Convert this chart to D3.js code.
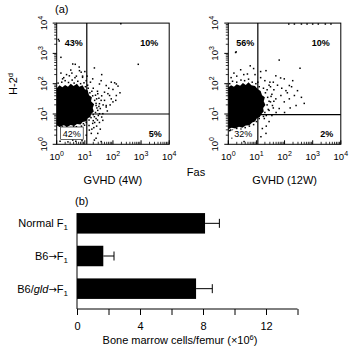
<!DOCTYPE html>
<html>
<head>
<meta charset="utf-8">
<script src="https://d3js.org/d3.v7.min.js"></script>
<style>
  body { margin: 0; background: #fff; }
  svg { display: block; font-family: "Liberation Sans", Arial, sans-serif; }
</style>
</head>
<body>
<div id="chart"></div>
<script>
// ---- data (log10 fluorescence, decades) ----
const decades = [0, 1, 2, 3, 4];
const panelTitles = ["GVHD (4W)", "GVHD (12W)"];
const quadrantPct4W = ["43%", "10%", "42%", "5%"];   // UL, UR, LL, LR
const quadrantPct12W = ["56%", "10%", "32%", "2%"];
const gate4W = [1.07, 1.0];   // Fas gate, H-2d gate
const gate12W = [1.05, 0.98];

// dense core of the cloud (outline)
const core4W = [[0,1.85],[0.1,1.95],[0.2,1.88],[0.3,1.96],[0.4,1.9],[0.5,2.0],[0.6,1.92],[0.72,2.0],[0.8,1.9],[0.92,1.95],[1.0,1.82],[1.1,1.78],[1.15,1.62],[1.25,1.55],[1.22,1.42],[1.33,1.32],[1.28,1.2],[1.32,1.08],[1.22,1.0],[1.2,0.9],[1.1,0.86],[1.05,0.76],[0.92,0.74],[0.85,0.65],[0.72,0.67],[0.62,0.6],[0.5,0.64],[0.38,0.58],[0.25,0.63],[0.12,0.58],[0,0.62]];
const core12W = [[0,1.88],[0.1,1.95],[0.2,1.9],[0.3,1.98],[0.42,1.93],[0.52,2.02],[0.62,1.96],[0.72,2.05],[0.82,1.95],[0.95,1.92],[1.05,1.82],[1.15,1.76],[1.2,1.62],[1.3,1.55],[1.26,1.42],[1.32,1.3],[1.24,1.2],[1.26,1.08],[1.18,1.0],[1.12,0.9],[1.02,0.86],[0.95,0.75],[0.85,0.72],[0.75,0.63],[0.62,0.62],[0.5,0.55],[0.38,0.58],[0.25,0.52],[0.12,0.55],[0,0.5]];

// single events
const dots4W = [
  [0.15,2.87],[0.09,3.41],[0.06,3.46],[2.28,3.98],[2.9,2.64],[0.66,2.64],[1.34,2.52],[0.81,2.43],[0.54,2.35],[0.92,2.25],
  [1.58,2.1],[2.06,2.03],[2.18,1.92],[2.0,1.81],[1.82,1.67],[2.12,1.61],[1.94,1.5],[1.7,1.45],[1.52,1.34],[1.76,1.28],
  [1.46,1.12],[1.64,1.01],[1.4,0.85],[1.52,0.72],[1.32,0.55],[1.23,0.36],[1.4,0.2],
  [0.57,2.65],[0.87,2.38],[0.45,2.26],[0.21,2.16],[0.92,2.21],[1.28,2.16],[1.52,1.99],[1.76,1.94],[1.94,2.05],[2.12,1.99],
  [1.7,1.72],[1.46,1.67],[1.88,1.61],[1.58,1.45],[2.0,1.4],[1.4,1.28],[1.76,1.23],[1.52,1.01],[1.34,0.91],[1.64,0.79],
  [1.28,0.69],[1.16,0.47],[1.46,0.36],[1.34,0.14],[1.58,0.09],[0.27,0.2],[0.57,0.14],[0.81,0.22],[1.05,0.3],[0.99,0.63],
  [0.05,2.02],[0.18,2.05],[0.3,2.1],[0.42,2.04],[0.55,2.12],[0.62,2.02],[0.75,2.08],[0.85,2.0],[0.97,2.03],[1.02,1.9],
  [1.12,1.85],[1.18,1.7],[1.28,1.6],[1.35,1.45],[1.4,1.35],[1.43,1.2],[1.38,1.05],[1.3,0.98],[1.22,0.88],[1.15,0.8],
  [1.05,0.72],[0.95,0.68],[0.88,0.6],[0.7,0.58],[0.6,0.6],[0.5,0.55],[0.35,0.6],[0.2,0.57],[0.1,0.6],
  [0.12,0.1],[0.4,0.08],[0.68,0.1],[0.9,0.12],[0.33,0.25],[0.75,0.3],
  [1.1,1.95],[1.2,2.05],[1.05,2.1],[1.3,1.85],[1.45,1.75],[1.6,1.6],[1.5,1.52],[1.65,1.3],[1.55,1.18],[1.48,0.95],
  [1.6,0.9],[1.45,0.8],[1.35,0.72],[1.42,0.6],[1.25,0.5],[1.15,0.62],[1.55,0.5],[1.8,1.1],[1.9,1.3],[2.1,1.45],
  [2.25,1.7],[1.85,1.85],[0.35,2.3],[0.7,2.25],[0.15,2.35],[0.5,2.45],[1.0,2.4],[0.8,2.55],[1.6,2.3],[0.25,2.2],
  [1.38,1.62],[1.5,1.25],[1.42,1.5],[1.25,1.75],[1.3,0.78],[1.18,1.02],[0.65,2.2],[1.08,2.25]
];
const dots12W = [
  [0.26,3.03],[0.28,3.05],[1.86,2.19],[1.81,2.78],[2.55,2.51],[0.44,2.46],[0.78,2.59],[0.68,2.32],[1.34,2.43],[1.69,2.26],
  [1.99,2.16],[2.29,2.1],[2.17,1.94],[2.46,1.77],[2.05,1.77],[2.35,1.61],[1.87,1.61],[2.17,1.5],[1.69,1.5],[1.99,1.4],
  [2.41,1.28],[1.57,1.28],[1.81,1.18],[1.45,1.12],[1.28,0.85],[1.21,0.52],[1.34,0.36],[1.16,0.25],
  [0.08,0.47],[0.14,0.2],[0.86,0.25],[0.74,0.41],[0.56,0.09],
  [2.15,3.97],[2.35,3.97],[2.6,3.97],[2.8,3.97],[3.0,3.97],[3.2,3.97],[3.45,3.97],[3.65,3.97],
  [0.05,2.0],[0.15,2.08],[0.3,2.05],[0.45,2.12],[0.58,2.1],[0.72,2.15],[0.85,2.05],[0.98,2.0],[1.1,1.9],[1.25,1.85],
  [1.32,1.7],[1.4,1.55],[1.45,1.42],[1.38,1.3],[1.42,1.15],[1.3,1.05],[1.25,0.92],[1.1,0.85],[1.0,0.75],[0.9,0.65],
  [0.75,0.6],[0.6,0.55],[0.45,0.5],[0.3,0.52],[0.15,0.47],[0.05,0.45],
  [1.5,1.9],[1.62,1.8],[1.55,1.65],[1.48,2.05],[1.15,2.2],[0.95,2.3],[0.3,2.25],[0.1,2.2],
  [1.45,1.95],[1.6,2.05],[1.75,1.95],[1.9,1.85],[2.1,1.7],[2.25,1.9],[2.6,1.55],[2.7,1.35],[2.2,1.2],[2.0,1.05],
  [1.7,1.05],[1.55,0.95],[1.45,0.75],[1.35,0.6],[1.5,1.4],[1.6,1.2],[1.15,2.4],[0.9,2.5],[0.55,2.3],[0.2,2.35],
  [1.3,2.1],[1.05,2.05],[1.38,1.8],[1.52,1.58],[1.62,1.42],[1.35,0.95],[0.35,0.35],[0.6,0.3]
];

// bone marrow cells/femur (x10^6)
const groups = ["Normal F1", "B6\u2192F1", "B6/gld\u2192F1"];
const cellMeans = [8.13, 1.67, 7.56];
const cellErrors = [0.91, 0.68, 1.03];
const cellTicks = [0, 2, 4, 6, 8, 10, 12, 14];
const cellTickLabels = [0, 4, 8, 12];

// ---- canvas ----
const svg = d3.select("#chart").append("svg")
  .attr("width", 350)
  .attr("height", 353);

// ---- (a) dot plots ----
const plotTop = 23.1, plotBottom = 144.3;
const panels = [
  { left: 56.7, title: panelTitles[0], pct: quadrantPct4W, gate: gate4W, core: core4W, dots: dots4W, llBox: true },
  { left: 228.3, title: panelTitles[1], pct: quadrantPct12W, gate: gate12W, core: core12W, dots: dots12W, llBox: false }
];
const plotWidth = 112.5;

panels.forEach(p => {
  const x = d3.scaleLinear().domain([0, 4]).range([p.left, p.left + plotWidth]);
  const y = d3.scaleLinear().domain([0, 4]).range([plotBottom, plotTop]);
  const g = svg.append("g");

  // cloud
  g.append("path")
    .datum(p.core)
    .attr("d", d3.line().x(d => x(d[0])).y(d => y(d[1])).curve(d3.curveLinearClosed))
    .attr("fill", "#000");

  g.selectAll(".dot")
    .data(p.dots)
    .enter().append("rect")
    .attr("x", d => x(d[0]) - 0.75)
    .attr("y", d => y(d[1]) - 0.75)
    .attr("width", 1.5)
    .attr("height", 1.5)
    .attr("fill", "#000");

  // quadrant gates
  g.append("line")
    .attr("x1", x(p.gate[0])).attr("x2", x(p.gate[0]))
    .attr("y1", y(4)).attr("y2", y(0))
    .attr("stroke", "#000").attr("stroke-width", 1.2);
  g.append("line")
    .attr("x1", x(p.gate[0])).attr("x2", x(4))
    .attr("y1", y(p.gate[1])).attr("y2", y(p.gate[1]))
    .attr("stroke", "#000").attr("stroke-width", 1.2);

  // frame
  g.append("rect")
    .attr("x", x(0)).attr("y", y(4))
    .attr("width", x(4) - x(0)).attr("height", y(0) - y(4))
    .attr("fill", "none").attr("stroke", "#000").attr("stroke-width", 1);

  // log ticks
  const minor = [];
  decades.slice(0, 4).forEach(n => d3.range(2, 10).forEach(k => minor.push(n + Math.log10(k))));
  g.selectAll(".ymaj").data(decades).enter().append("line")
    .attr("x1", x(0) - 4).attr("x2", x(0))
    .attr("y1", d => y(d)).attr("y2", d => y(d))
    .attr("stroke", "#000").attr("stroke-width", 1);
  g.selectAll(".ymin").data(minor).enter().append("line")
    .attr("x1", x(0) - 2.5).attr("x2", x(0))
    .attr("y1", d => y(d)).attr("y2", d => y(d))
    .attr("stroke", "#000").attr("stroke-width", 0.8);
  g.selectAll(".xmaj").data(decades).enter().append("line")
    .attr("x1", d => x(d)).attr("x2", d => x(d))
    .attr("y1", y(0)).attr("y2", y(0) - 4)
    .attr("stroke", "#000").attr("stroke-width", 1);
  g.selectAll(".xmin").data(minor).enter().append("line")
    .attr("x1", d => x(d)).attr("x2", d => x(d))
    .attr("y1", y(0)).attr("y2", y(0) - 2.5)
    .attr("stroke", "#000").attr("stroke-width", 0.8);

  // tick labels 10^n
  const xl = g.selectAll(".xl").data(decades).enter().append("text")
    .attr("x", d => x(d))
    .attr("y", 160)
    .attr("text-anchor", "middle")
    .style("font-size", "9.5px");
  xl.append("tspan").text("10");
  xl.append("tspan").attr("dy", -4).style("font-size", "7px").text(d => d);

  const yl = g.selectAll(".yl").data(decades).enter().append("text")
    .attr("transform", d => `translate(${x(0) - 10},${y(d)}) rotate(-90)`)
    .attr("text-anchor", "middle")
    .style("font-size", "9.5px");
  yl.append("tspan").text("10");
  yl.append("tspan").attr("dy", -4).style("font-size", "7px").text(d => d);

  // quadrant percentages
  if (p.llBox) {
    g.append("rect")
      .attr("x", x(0) + 4).attr("y", y(p.gate[1]) + 13)
      .attr("width", 22.5).attr("height", 12.5)
      .attr("fill", "#fff").attr("stroke", "#000").attr("stroke-width", 0.6);
  } else {
    g.append("rect")
      .attr("x", x(0) + 4).attr("y", y(p.gate[1]) + 15)
      .attr("width", 22).attr("height", 10)
      .attr("fill", "#fff");
  }
  const pctPos = [
    [x(0) + 17, y(4) + 23, "bold"],
    [x(4) - 20, y(4) + 23, "bold"],
    [x(0) + 15, y(0) - 7, "normal"],
    [x(4) - 14, y(0) - 7, "bold"]
  ];
  p.pct.forEach((t, i) => {
    g.append("text")
      .attr("x", pctPos[i][0]).attr("y", pctPos[i][1])
      .attr("text-anchor", "middle")
      .style("font-size", "9px")
      .style("font-weight", pctPos[i][2])
      .text(t);
  });

  g.append("text")
    .attr("x", p.left + plotWidth / 2)
    .attr("y", 184)
    .attr("text-anchor", "middle")
    .style("font-size", "11px")
    .text(p.title);
});

svg.append("text").attr("x", 55).attr("y", 13).style("font-size", "11px").text("(a)");
svg.append("text").attr("x", 196).attr("y", 176).attr("text-anchor", "middle").style("font-size", "11px").text("Fas");
const h2 = svg.append("text")
  .attr("transform", "translate(17,84) rotate(-90)")
  .attr("text-anchor", "middle")
  .style("font-size", "11px");
h2.append("tspan").text("H-2");
h2.append("tspan").attr("dy", -4).style("font-size", "7.5px").text("d");

// ---- (b) bar chart ----
const xBar = d3.scaleLinear().domain([0, 14]).range([77, 297.5]);
const yBar = d3.scalePoint().domain(groups).range([207, 305]).padding(0.5);
const barH = 20.5;
const barData = groups.map((g, i) => ({ group: g, mean: cellMeans[i], err: cellErrors[i] }));

svg.append("text").attr("x", 75).attr("y", 205).style("font-size", "11px").text("(b)");

const gb = svg.append("g");
gb.append("g")
  .attr("transform", "translate(0,309)")
  .call(d3.axisBottom(xBar).tickValues(cellTicks).tickSize(6)
    .tickFormat(d => cellTickLabels.includes(d) ? d : ""))
  .call(a => a.select(".domain").attr("d", `M${xBar(0)},0H${xBar(14)}`))
  .call(a => a.selectAll("line, path").attr("stroke", "#000"))
  .call(a => a.selectAll("text").attr("fill", "#000").style("font-size", "11px")
    .style("font-family", "'Liberation Sans', Arial, sans-serif").attr("dy", "1.1em"));

gb.append("line")
  .attr("x1", xBar(0)).attr("x2", xBar(0))
  .attr("y1", yBar(groups[0]) - barH / 2).attr("y2", 309)
  .attr("stroke", "#000").attr("stroke-width", 1);

gb.selectAll(".err").data(barData).enter().append("path")
  .attr("d", d => {
    const yc = yBar(d.group), x1 = xBar(d.mean + d.err);
    return `M${xBar(d.mean)},${yc}H${x1}M${x1},${yc - 4.5}V${yc + 4.5}`;
  })
  .attr("stroke", "#000").attr("stroke-width", 1).attr("fill", "none");

gb.selectAll(".bar").data(barData).enter().append("rect")
  .attr("x", xBar(0))
  .attr("y", d => yBar(d.group) - barH / 2)
  .attr("width", d => xBar(d.mean) - xBar(0))
  .attr("height", barH)
  .attr("fill", "#000");

// category labels: italic "gld", arrow, subscript trailing 1
const labs = gb.selectAll(".cat").data(groups).enter().append("text")
  .attr("x", 68)
  .attr("y", d => yBar(d) + 4)
  .attr("text-anchor", "end")
  .style("font-size", "11px");
labs.each(function (d) {
  const t = d3.select(this);
  const body = d.slice(0, -1);
  body.split(/(gld|\u2192)/).forEach(part => {
    if (!part) return;
    const s = t.append("tspan").text(part);
    if (part === "gld") s.style("font-style", "italic");
    if (part === "\u2192") s.style("font-family", "'DejaVu Sans', sans-serif").style("font-size", "10px");
  });
  t.append("tspan").attr("dy", 3).style("font-size", "8px").text(d.slice(-1));
});

const xt = svg.append("text")
  .attr("x", 180).attr("y", 344)
  .attr("text-anchor", "middle")
  .style("font-size", "11px");
xt.append("tspan").text("Bone marrow cells/femur (\u00d710");
xt.append("tspan").attr("dy", -4).style("font-size", "7.5px").text("6");
xt.append("tspan").attr("dy", 4).text(")");
</script>
</body>
</html>
